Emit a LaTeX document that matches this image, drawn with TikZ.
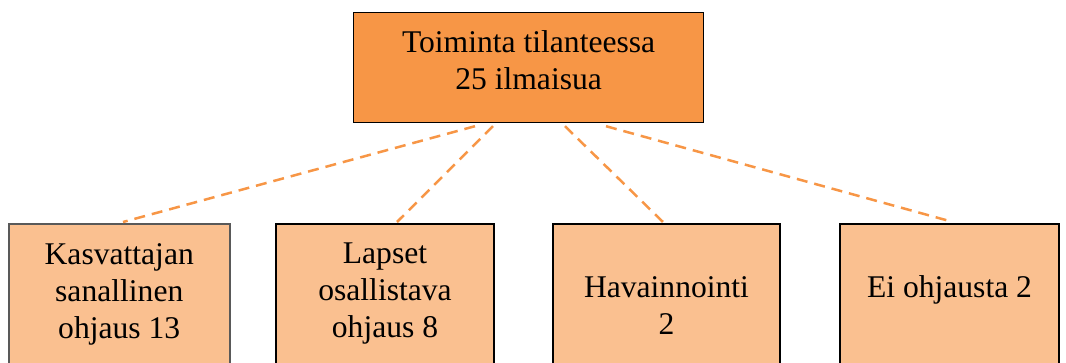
\documentclass[tikz,border=0pt]{standalone}
\usepackage{fontspec}
\setmainfont{Liberation Serif}
\usetikzlibrary{positioning,calc}
\definecolor{orangedark}{HTML}{F79646}
\definecolor{orangelight}{HTML}{FAC090}
\tikzstyle{topbox}=[draw=black, line width=1.2pt, fill=orangedark, minimum width=350pt, minimum height=110pt, inner sep=0pt, anchor=north west]
\tikzstyle{lowbox}=[draw=black, line width=2pt, fill=orangelight, minimum height=170pt, inner sep=0pt, anchor=north west]
\tikzstyle{boxtext}=[font=\fontsize{31.6}{37}\selectfont, align=center, inner sep=0pt, execute at begin node=\strut]
\tikzstyle{link}=[orangedark, line width=2.5pt, dash pattern=on 11pt off 7pt]

\begin{document}
\begin{tikzpicture}[x=1pt, y=-1pt]
    \useasboundingbox (0,0) rectangle (1066,362);
    \clip (0,0) rectangle (1066,362);
% Top box
    \node[topbox] (sit) at (353,12) {};
    \node[boxtext, below=18pt of sit.north] (sittext) {Toiminta tilanteessa\\25 ilmaisua};
% Lower boxes
    \node[lowbox, draw=black!65, line width=1.5pt, minimum width=221pt] (kas) at (8,223) {};
    \node[lowbox, minimum width=218pt] (lap) at (275,223) {};
    \node[lowbox, minimum width=227pt] (hav) at (552,223) {};
    \node[lowbox, minimum width=219pt] (eio) at (839,223) {};
    \node[boxtext, below=20pt of kas.north] (kastext) {Kasvattajan\\sanallinen\\ohjaus 13};
    \node[boxtext, below=20pt of lap.north] (laptext) {Lapset\\osallistava\\ohjaus 8};
    \node[boxtext, below=53pt of hav.north] (havtext) {Havainnointi\\2};
    \node[boxtext, below=48pt of eio.north] (eiotext) {Ei ohjausta 2};
% Dashed links
    \coordinate (s1) at ($(sit.south west)+(122,3)$);
    \coordinate (s2) at ($(sit.south west)+(140,3)$);
    \coordinate (s3) at ($(sit.south west)+(212,3)$);
    \coordinate (s4) at ($(sit.south west)+(253,3)$);
    \coordinate (k1) at ($(kas.north west)+(115,-1)$);
    \coordinate (l1) at ($(lap.north west)+(122,-1)$);
    \coordinate (h1) at ($(hav.north west)+(111,-1)$);
    \coordinate (e1) at ($(eio.north west)+(114,-1)$);
    \draw[link] (s1) -- (k1);
    \draw[link] (s2) -- (l1);
    \draw[link] (s3) -- (h1);
    \draw[link] (s4) -- (e1);
\end{tikzpicture}
\end{document}
